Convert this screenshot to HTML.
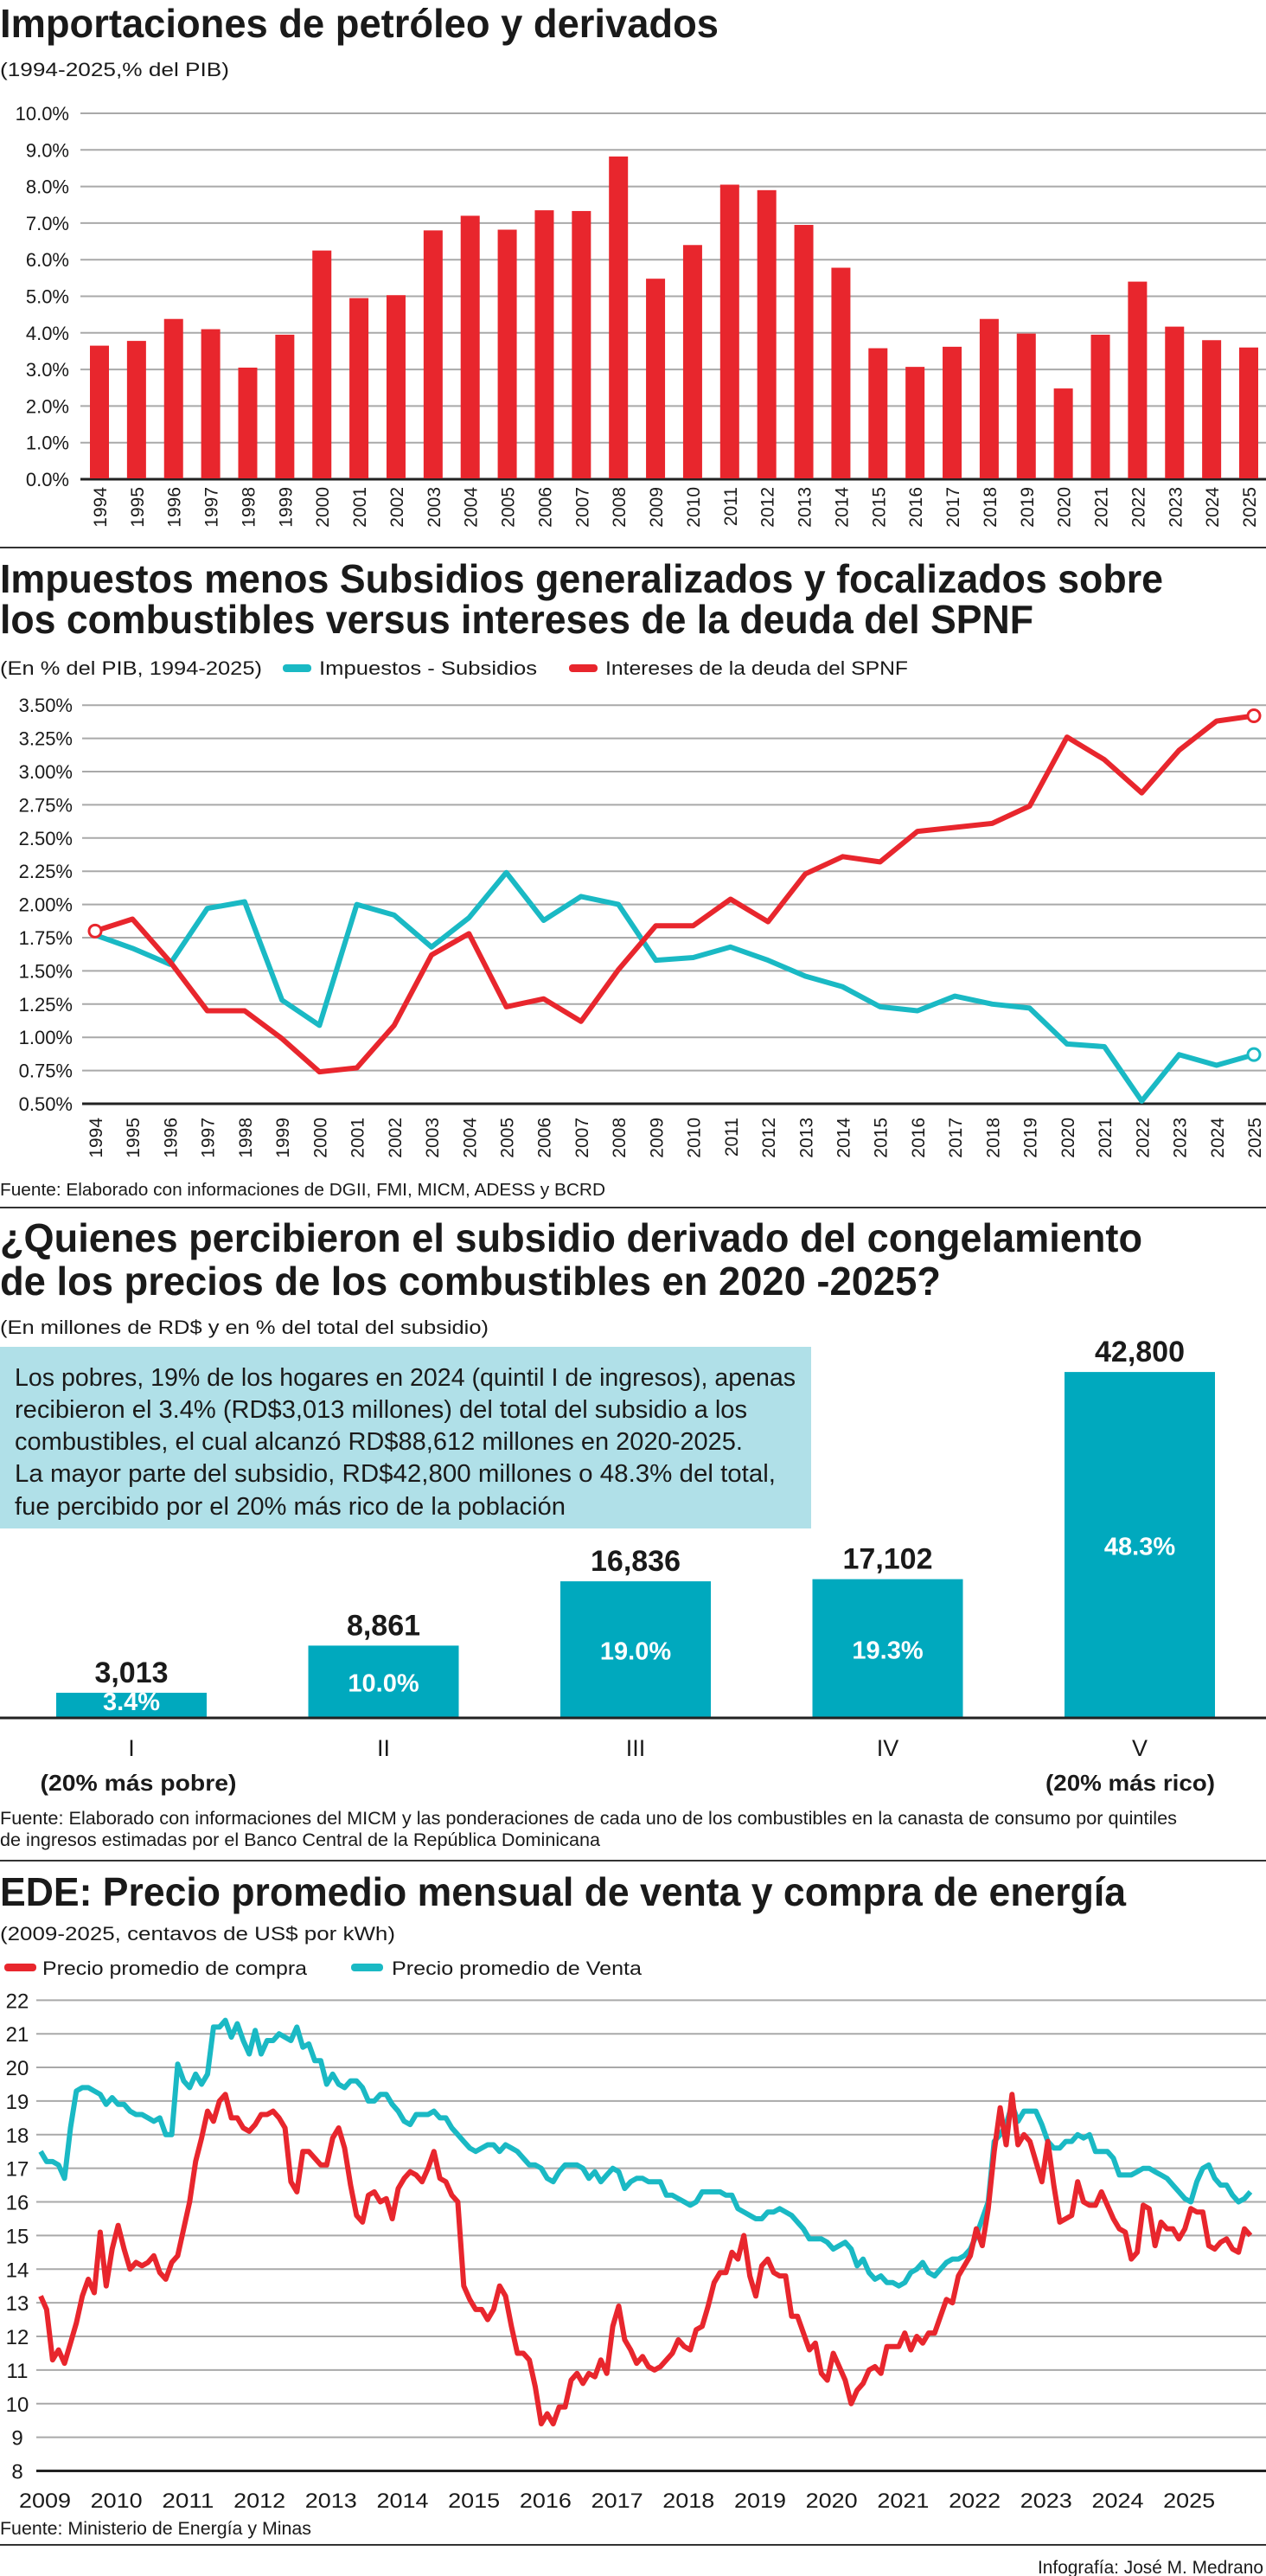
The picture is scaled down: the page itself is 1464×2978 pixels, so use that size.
<!DOCTYPE html>
<html><head><meta charset="utf-8">
<style>
html,body{margin:0;padding:0;background:#fff;}
svg{display:block;}
text{font-family:"Liberation Sans Narrow","Liberation Sans",sans-serif;fill:#1a1a1a;}
.t{font-weight:bold;font-size:46px;}
.s{font-size:22px;}
</style></head>
<body>
<svg id="root" width="1464" height="2978" viewBox="0 0 1464 2978" xmlns="http://www.w3.org/2000/svg">
<!-- Section 1 -->
<text class="t" x="0" y="43" textLength="831" lengthAdjust="spacingAndGlyphs">Importaciones de petróleo y derivados</text>
<text class="s" x="0" y="88" textLength="265" lengthAdjust="spacingAndGlyphs">(1994-2025,% del PIB)</text>
<g id="c1"></g>
<line x1="0" y1="633" x2="1464" y2="633" stroke="#333" stroke-width="2"/>

<!-- Section 2 -->
<text class="t" x="0" y="685" textLength="1345" lengthAdjust="spacingAndGlyphs">Impuestos menos Subsidios generalizados y focalizados sobre</text>
<text class="t" x="0" y="732" textLength="1195" lengthAdjust="spacingAndGlyphs">los combustibles versus intereses de la deuda del SPNF</text>
<text class="s" x="0" y="780" textLength="303" lengthAdjust="spacingAndGlyphs">(En % del PIB, 1994-2025)</text>
<rect x="327" y="768" width="33" height="9" rx="4" fill="#1ab9c4"/>
<text class="s" x="369" y="780" textLength="252" lengthAdjust="spacingAndGlyphs">Impuestos - Subsidios</text>
<rect x="658" y="768" width="33" height="9" rx="4" fill="#e8262d"/>
<text class="s" x="700" y="780" textLength="350" lengthAdjust="spacingAndGlyphs">Intereses de la deuda del SPNF</text>
<g id="c2"></g>
<text x="0" y="1382" font-size="20" textLength="700" lengthAdjust="spacingAndGlyphs">Fuente: Elaborado con informaciones de DGII, FMI, MICM, ADESS y BCRD</text>
<line x1="0" y1="1396" x2="1464" y2="1396" stroke="#333" stroke-width="2"/>

<!-- Section 3 -->
<text class="t" x="0" y="1447" textLength="1321" lengthAdjust="spacingAndGlyphs">¿Quienes percibieron el subsidio derivado del congelamiento</text>
<text class="t" x="0" y="1497" textLength="1088" lengthAdjust="spacingAndGlyphs">de los precios de los combustibles en 2020 -2025?</text>
<text class="s" x="0" y="1542" textLength="565" lengthAdjust="spacingAndGlyphs">(En millones de RD$ y en % del total del subsidio)</text>
<rect x="0" y="1557" width="938" height="210" fill="#b0e0e8"/>
<g font-size="29">
<text x="17" y="1602" textLength="903" lengthAdjust="spacingAndGlyphs">Los pobres, 19% de los hogares en 2024 (quintil I de ingresos), apenas</text>
<text x="17" y="1639" textLength="847" lengthAdjust="spacingAndGlyphs">recibieron el 3.4% (RD$3,013 millones) del total del subsidio a los</text>
<text x="17" y="1676" textLength="842" lengthAdjust="spacingAndGlyphs">combustibles, el cual alcanzó RD$88,612 millones en 2020-2025.</text>
<text x="17" y="1713" textLength="880" lengthAdjust="spacingAndGlyphs">La mayor parte del subsidio, RD$42,800 millones o 48.3% del total,</text>
<text x="17" y="1751" textLength="637" lengthAdjust="spacingAndGlyphs">fue percibido por el 20% más rico de la población</text>
</g>
<g id="c3"></g>
<text x="160" y="2070" font-size="26" font-weight="bold" text-anchor="middle" textLength="227" lengthAdjust="spacingAndGlyphs">(20% más pobre)</text>
<text x="1307" y="2070" font-size="26" font-weight="bold" text-anchor="middle" textLength="196" lengthAdjust="spacingAndGlyphs">(20% más rico)</text>
<text x="0" y="2109" font-size="21" textLength="1361" lengthAdjust="spacingAndGlyphs">Fuente: Elaborado con informaciones del MICM y las ponderaciones de cada uno de los combustibles en la canasta de consumo por quintiles</text>
<text x="0" y="2134" font-size="21" textLength="694" lengthAdjust="spacingAndGlyphs">de ingresos estimadas por el Banco Central de la República Dominicana</text>
<line x1="0" y1="2151" x2="1464" y2="2151" stroke="#333" stroke-width="2"/>

<!-- Section 4 -->
<text class="t" x="0" y="2203" textLength="1302" lengthAdjust="spacingAndGlyphs">EDE: Precio promedio mensual de venta y compra de energía</text>
<text class="s" x="0" y="2243" textLength="457" lengthAdjust="spacingAndGlyphs">(2009-2025, centavos de US$ por kWh)</text>
<rect x="5" y="2270" width="37" height="9" rx="4" fill="#e8262d"/>
<text class="s" x="49" y="2283" textLength="306" lengthAdjust="spacingAndGlyphs">Precio promedio de compra</text>
<rect x="406" y="2270" width="37" height="9" rx="4" fill="#1ab9c4"/>
<text class="s" x="453" y="2283" textLength="289" lengthAdjust="spacingAndGlyphs">Precio promedio de Venta</text>
<g id="c4"></g>
<text x="0" y="2930" font-size="21" textLength="360" lengthAdjust="spacingAndGlyphs">Fuente: Ministerio de Energía y Minas</text>
<line x1="0" y1="2942" x2="1464" y2="2942" stroke="#333" stroke-width="2"/>
<text x="1461" y="2975" font-size="21" text-anchor="end" textLength="261" lengthAdjust="spacingAndGlyphs">Infografía: José M. Medrano</text>
</svg>

<script>
// ---------- Chart 1 data ----------
const c1Years = [1994,1995,1996,1997,1998,1999,2000,2001,2002,2003,2004,2005,2006,2007,2008,2009,2010,2011,2012,2013,2014,2015,2016,2017,2018,2019,2020,2021,2022,2023,2024,2025];
const c1Values = [3.65,3.78,4.38,4.1,3.05,3.95,6.25,4.95,5.03,6.8,7.2,6.82,7.35,7.33,8.82,5.48,6.4,8.05,7.9,6.95,5.78,3.58,3.07,3.62,4.38,3.98,2.48,3.95,5.4,4.17,3.8,3.6];
const c1Ticks = [0,1,2,3,4,5,6,7,8,9,10];
const c1TickLabels = ["0.0%","1.0%","2.0%","3.0%","4.0%","5.0%","6.0%","7.0%","8.0%","9.0%","10.0%"];

// ---------- Chart 2 data ----------
const c2Years = c1Years.slice();
const c2Impuestos = [1.77,1.67,1.55,1.97,2.02,1.28,1.09,2.0,1.92,1.68,1.9,2.24,1.88,2.06,2.0,1.58,1.6,1.68,1.58,1.46,1.38,1.23,1.2,1.31,1.25,1.22,0.95,0.93,0.52,0.87,0.79,0.87];
const c2Intereses = [1.80,1.89,1.57,1.20,1.20,0.99,0.74,0.77,1.09,1.62,1.78,1.23,1.29,1.12,1.51,1.84,1.84,2.04,1.87,2.23,2.36,2.32,2.55,2.58,2.61,2.74,3.26,3.09,2.84,3.16,3.38,3.42];
const c2Ticks = [0.5,0.75,1.0,1.25,1.5,1.75,2.0,2.25,2.5,2.75,3.0,3.25,3.5];
const c2TickLabels = ["0.50%","0.75%","1.00%","1.25%","1.50%","1.75%","2.00%","2.25%","2.50%","2.75%","3.00%","3.25%","3.50%"];

// ---------- Chart 3 data ----------
const c3Quintiles = ["I","II","III","IV","V"];
const c3Values = [3013,8861,16836,17102,42800];
const c3ValueLabels = ["3,013","8,861","16,836","17,102","42,800"];
const c3Shares = ["3.4%","10.0%","19.0%","19.3%","48.3%"];

// ---------- Chart 4 data (monthly, Jan 2009 - Dec 2025) ----------
const c4Compra = [
13.2,12.8,11.3,11.6,11.2,11.8,12.4,13.2,13.7,13.3,15.1,13.5,
14.6,15.3,14.6,14.0,14.2,14.1,14.2,14.4,13.9,13.7,14.2,14.4,
15.2,16.0,17.2,17.9,18.7,18.4,19.0,19.2,18.5,18.5,18.2,18.1,
18.3,18.6,18.6,18.7,18.5,18.2,16.6,16.3,17.5,17.5,17.3,17.1,
17.1,17.9,18.2,17.6,16.5,15.6,15.4,16.2,16.3,16.0,16.1,15.5,
16.4,16.7,16.9,16.8,16.6,17.0,17.5,16.7,16.6,16.2,16.0,13.5,
13.1,12.8,12.8,12.5,12.8,13.5,13.2,12.3,11.5,11.5,11.3,10.5,
9.4,9.7,9.4,9.9,9.9,10.7,10.9,10.6,10.9,10.8,11.3,10.9,
12.3,12.9,11.9,11.6,11.2,11.4,11.1,11.0,11.1,11.3,11.5,11.9,
11.7,11.6,12.2,12.3,12.9,13.6,13.9,13.9,14.5,14.3,15.0,13.8,
13.2,14.1,14.3,13.9,13.8,13.8,12.6,12.6,12.1,11.6,11.8,10.9,
10.7,11.5,11.1,10.7,10.0,10.4,10.6,11.0,11.1,10.9,11.7,11.7,
11.7,12.1,11.6,12.0,11.8,12.1,12.1,12.6,13.1,13.0,13.8,14.1,
14.4,15.2,14.7,15.8,17.5,18.8,17.7,19.2,17.7,18.0,17.8,17.2,
16.6,17.8,16.5,15.4,15.5,15.6,16.6,16.0,15.9,15.9,16.3,15.9,
15.5,15.2,15.1,14.3,14.5,15.9,15.8,14.7,15.4,15.2,15.2,14.9,
15.2,15.8,15.7,15.7,14.7,14.6,14.8,14.9,14.6,14.5,15.2,15.0];
const c4Venta = [
17.5,17.2,17.2,17.1,16.7,18.2,19.3,19.4,19.4,19.3,19.2,18.9,
19.1,18.9,18.9,18.7,18.6,18.6,18.5,18.4,18.5,18.0,18.0,20.1,
19.6,19.4,19.8,19.5,19.8,21.2,21.2,21.4,20.9,21.3,20.8,20.4,
21.1,20.4,20.8,20.8,21.0,20.9,20.8,21.2,20.6,20.7,20.2,20.2,
19.5,19.8,19.5,19.4,19.6,19.6,19.4,19.0,19.0,19.2,19.2,18.9,
18.7,18.4,18.3,18.6,18.6,18.6,18.7,18.5,18.5,18.2,18.0,17.8,
17.6,17.5,17.6,17.7,17.7,17.5,17.7,17.6,17.5,17.3,17.1,17.1,
17.0,16.7,16.6,16.9,17.1,17.1,17.1,17.0,16.7,16.9,16.6,16.8,
17.0,16.9,16.4,16.6,16.7,16.7,16.6,16.6,16.6,16.2,16.2,16.1,
16.0,15.9,16.0,16.3,16.3,16.3,16.3,16.2,16.2,15.8,15.7,15.6,
15.5,15.5,15.7,15.7,15.8,15.7,15.6,15.4,15.2,14.9,14.9,14.9,
14.8,14.6,14.7,14.8,14.6,14.1,14.3,13.9,13.7,13.8,13.6,13.6,
13.5,13.6,13.9,14.0,14.2,13.9,13.8,14.0,14.2,14.3,14.3,14.4,
14.6,15.0,15.5,16.0,17.8,18.0,18.3,18.9,18.4,18.7,18.7,18.7,
18.3,17.8,17.6,17.6,17.8,17.8,18.0,17.9,18.0,17.5,17.5,17.5,
17.3,16.8,16.8,16.8,16.9,17.0,17.0,16.9,16.8,16.7,16.5,16.3,
16.1,16.0,16.6,17.0,17.1,16.7,16.5,16.5,16.2,16.0,16.1,16.3];
const c4Ticks = [8,9,10,11,12,13,14,15,16,17,18,19,20,21,22];
const c4YearLabels = ["2009","2010","2011","2012","2013","2014","2015","2016","2017","2018","2019","2020","2021","2022","2023","2024","2025"];

const NS = "http://www.w3.org/2000/svg";
function mk(tag, attrs, parent, txt) {
  const el = document.createElementNS(NS, tag);
  for (const k in attrs) el.setAttribute(k, attrs[k]);
  if (txt !== undefined) el.textContent = txt;
  parent.appendChild(el);
  return el;
}
const RED = "#e8262d", CYAN = "#1ab9c4", GRID = "#a9a9a9";

// ---------- Chart 1 ----------
(function () {
  const g = document.getElementById("c1");
  const y = v => 554 - v * 42.3;
  const x = i => 115 + i * (1444 - 115) / (c1Years.length - 1);
  c1Ticks.forEach((t, i) => {
    const ln = mk("line", {x1: 93, x2: 1464, y1: y(t), y2: y(t), stroke: i === 0 ? "#222" : GRID, "stroke-width": i === 0 ? 3 : 2}, g);
    
    
    const tx = mk("text", {x: 80, y: y(t) + 8, "font-size": 22, "text-anchor": "end"}, g, c1TickLabels[i]);
    
    
  });
  c1Values.forEach((v, i) => {
    const r = mk("rect", {x: x(i) - 11, y: y(v), width: 22, height: y(0) - y(v) - 1, fill: RED}, g);
    
    
    const tx = mk("text", {x: 0, y: 0, "font-size": 21, "text-anchor": "end", transform: `translate(${x(i) + 8},563) rotate(-90)`}, g, String(c1Years[i]));
    
    
  });
})();

// ---------- Chart 2 ----------
(function () {
  const g = document.getElementById("c2");
  const y = v => 1276 - (v - 0.5) / 0.25 * 38.4;
  const x = i => 110 + i * (1450 - 110) / (c2Years.length - 1);
  c2Ticks.forEach((t, i) => {
    const ln = mk("line", {x1: 95, x2: 1464, y1: y(t), y2: y(t), stroke: i === 0 ? "#222" : GRID, "stroke-width": i === 0 ? 3 : 2}, g);
    
    
    const tx = mk("text", {x: 84, y: y(t) + 8, "font-size": 22, "text-anchor": "end"}, g, c2TickLabels[i]);
    
    
  });
  c2Years.forEach((yr, i) => {
    const tx = mk("text", {x: 0, y: 0, "font-size": 21, "text-anchor": "end", transform: `translate(${x(i) + 8},1292) rotate(-90)`}, g, String(yr));
    
    
  });
  const pts = arr => arr.map((v, i) => x(i).toFixed(1) + "," + y(v).toFixed(1)).join(" ");
  const p1 = mk("polyline", {points: pts(c2Impuestos), fill: "none", stroke: CYAN, "stroke-width": 6, "stroke-linejoin": "round"}, g);
  
  
  const p2 = mk("polyline", {points: pts(c2Intereses), fill: "none", stroke: RED, "stroke-width": 6, "stroke-linejoin": "round"}, g);
  
  
  const last = c2Years.length - 1;
  const m1 = mk("circle", {cx: x(0), cy: y(c2Intereses[0]), r: 7, fill: "#fff", stroke: RED, "stroke-width": 3}, g);
  
  
  const m2 = mk("circle", {cx: x(last), cy: y(c2Intereses[last]), r: 7, fill: "#fff", stroke: RED, "stroke-width": 3}, g);
  
  
  const m3 = mk("circle", {cx: x(last), cy: y(c2Impuestos[last]), r: 7, fill: "#fff", stroke: CYAN, "stroke-width": 3}, g);
  
  
})();

// ---------- Chart 3 ----------
(function () {
  const g = document.getElementById("c3");
  const base = 1985;
  const h = v => v * 0.00932;
  const cx = i => 152 + i * 291.5;
  c3Values.forEach((v, i) => {
    const r = mk("rect", {x: cx(i) - 87, y: base - h(v), width: 174, height: h(v), fill: "#00a9be"}, g);
    
    
    const vl = mk("text", {x: cx(i), y: base - h(v) - 12, "font-size": 34, "font-weight": "bold", "text-anchor": "middle"}, g, c3ValueLabels[i]);
    
    
    const py = Math.min(base - 8, base - h(v) / 2 + 12);
    const sl = mk("text", {x: cx(i), y: py, "font-size": 29, "font-weight": "bold", "text-anchor": "middle", style: "fill:#fff"}, g, c3Shares[i]);
    
    
    const ql = mk("text", {x: cx(i), y: 2030, "font-size": 27, "text-anchor": "middle"}, g, c3Quintiles[i]);
    
    
  });
  const ax = mk("line", {x1: 0, x2: 1464, y1: base + 1, y2: base + 1, stroke: "#222", "stroke-width": 3}, g);
  
  
})();

// ---------- Chart 4 ----------
(function () {
  const g = document.getElementById("c4");
  const y = v => 2856.5 - (v - 8) * 38.87;
  const x = m => 47 + m * 82.7 / 12;
  c4Ticks.forEach((t, i) => {
    const ln = mk("line", {x1: 42, x2: 1464, y1: y(t), y2: y(t), stroke: i === 0 ? "#222" : GRID, "stroke-width": i === 0 ? 3 : 2}, g);
    
    
    const tx = mk("text", {x: 20, y: y(t) + 9, "font-size": 24, "text-anchor": "middle"}, g, String(t));
    
    
  });
  c4YearLabels.forEach((lab, k) => {
    const tx = mk("text", {x: x(k * 12) + 5, y: 2899, "font-size": 24, "text-anchor": "middle", textLength: 60, lengthAdjust: "spacingAndGlyphs"}, g, lab);
    
    
  });
  const pts = arr => arr.map((v, i) => x(i).toFixed(1) + "," + y(v).toFixed(1)).join(" ");
  const pv = mk("polyline", {points: pts(c4Venta), fill: "none", stroke: CYAN, "stroke-width": 6, "stroke-linejoin": "round"}, g);
  
  
  const pc = mk("polyline", {points: pts(c4Compra), fill: "none", stroke: RED, "stroke-width": 6, "stroke-linejoin": "round"}, g);
  
  
})();
</script>
</body></html>
